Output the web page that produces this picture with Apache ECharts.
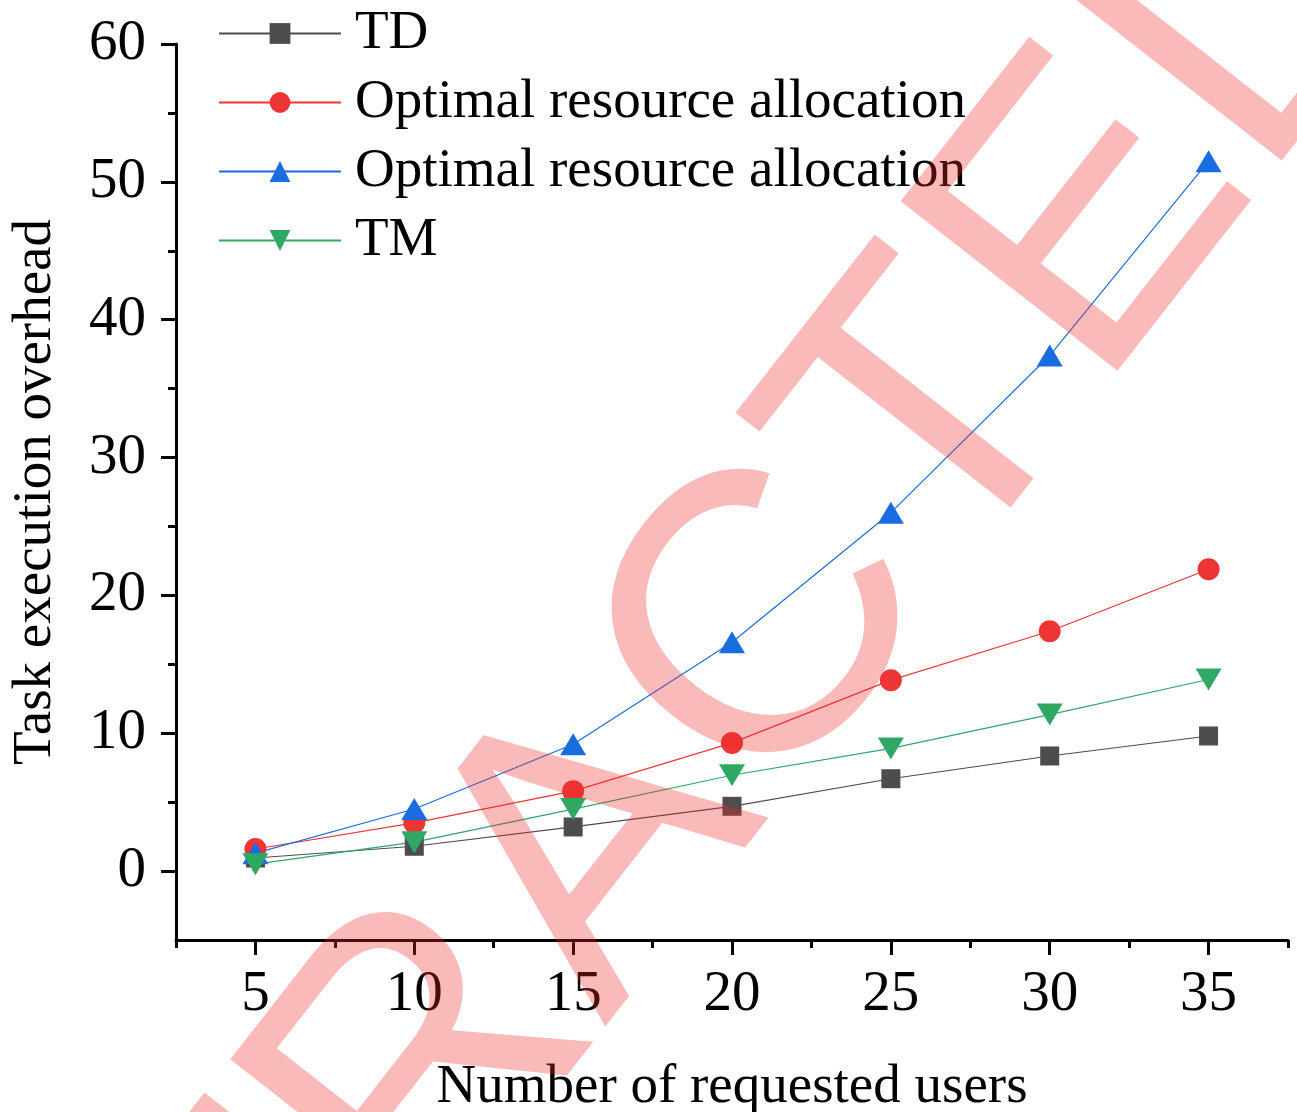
<!DOCTYPE html>
<html>
<head>
<meta charset="utf-8">
<script src="https://cdn.jsdelivr.net/npm/echarts@6.0.0/dist/echarts.min.js"></script>
<style>
html, body { margin: 0; padding: 0; background: #fff; }
#main { width: 1297px; height: 1112px; }
</style>
</head>
<body>
<div id="main"></div>
<script>
var users = [5, 10, 15, 20, 25, 30, 35];
var tdValues = [0.95, 1.8, 3.2, 4.7, 6.7, 8.35, 9.8];
var optRedValues = [1.6, 3.5, 5.8, 9.3, 13.85, 17.4, 21.9];
var optBlueValues = [1.3, 4.5, 9.2, 16.6, 26.0, 37.4, 51.5];
var tmValues = [0.5, 2.1, 4.5, 6.95, 8.9, 11.35, 13.9];
var xMajor = [5, 10, 15, 20, 25, 30, 35];
var xMinor = [2.5, 7.5, 12.5, 17.5, 22.5, 27.5, 32.5, 37.5];
var yMajor = [0, 10, 20, 30, 40, 50, 60];
var yMinor = [5, 15, 25, 35, 45, 55];

var serif = "'Liberation Serif', 'Times New Roman', serif";

function pairs(vals) {
	var out = [];
	for (var i = 0; i < users.length; i++) {
		out.push([users[i], vals[i]]);
	}
	return out;
}

function lineSeries(name, vals, color, symbol, size, rotate) {
	return {
		name: name,
		type: 'line',
		data: pairs(vals),
		symbol: symbol,
		symbolSize: size,
		symbolRotate: rotate || 0,
		showAllSymbol: true,
		lineStyle: { color: color, width: 1.2 },
		itemStyle: { color: color },
		z: 3
	};
}

var myChart = echarts.init(document.getElementById('main'), null, { renderer: 'canvas' });

var option = {
	backgroundColor: '#fff',
	animation: false,
	grid: { left: 176, right: 9, top: 44, bottom: 172, containLabel: false, outerBoundsMode: 'none' },
	legend: {
		orient: 'vertical',
		left: 218,
		top: 6,
		padding: 0,
		itemWidth: 122,
		itemHeight: 26,
		itemGap: 14,
		selectedMode: false,
		formatter: function(name) { return name.trim(); },
		textStyle: { fontFamily: serif, fontSize: 55, color: '#000', lineHeight: 54, padding: [0, 0, 0, 9] }
	},
	xAxis: [
		{
			type: 'value',
			min: 2.5,
			max: 37.5,
			name: 'Number of requested users',
			nameLocation: 'middle',
			nameGap: 120,
			nameTextStyle: { fontFamily: serif, fontSize: 55, color: '#000' },
			axisLine: { show: true, onZero: false, lineStyle: { color: '#000', width: 3 } },
			axisTick: { show: true, customValues: xMajor, length: 15, lineStyle: { color: '#000', width: 3 } },
			axisLabel: { customValues: xMajor, margin: 27, fontFamily: serif, fontSize: 57, color: '#000' },
			splitLine: { show: false }
		},
		{
			type: 'value',
			position: 'bottom',
			min: 2.5,
			max: 37.5,
			axisLine: { show: false, onZero: false },
			axisTick: { show: true, customValues: xMinor, length: 8, lineStyle: { color: '#000', width: 3 } },
			axisLabel: { show: false },
			splitLine: { show: false }
		}
	],
	yAxis: [
		{
			type: 'value',
			min: -5,
			max: 60,
			name: 'Task execution overhead',
			nameLocation: 'middle',
			nameGap: 113,
			nameTextStyle: { fontFamily: serif, fontSize: 55, color: '#000' },
			axisLine: { show: true, onZero: false, lineStyle: { color: '#000', width: 3 } },
			axisTick: { show: true, customValues: yMajor, length: 15, lineStyle: { color: '#000', width: 3 } },
			axisLabel: { customValues: yMajor, margin: 30, fontFamily: serif, fontSize: 57, color: '#000' },
			splitLine: { show: false }
		},
		{
			type: 'value',
			position: 'left',
			min: -5,
			max: 60,
			axisLine: { show: false, onZero: false },
			axisTick: { show: true, customValues: yMinor, length: 8, lineStyle: { color: '#000', width: 3 } },
			axisLabel: { show: false },
			splitLine: { show: false }
		}
	],
	series: [
		lineSeries('TD', tdValues, '#4d4d4d', 'rect', 19),
		lineSeries('Optimal resource allocation', optRedValues, '#ee3535', 'circle', 22),
		lineSeries('Optimal resource allocation ', optBlueValues, '#1a6de0', 'triangle', [26, 22]),
		lineSeries('TM', tmValues, '#30a865', 'triangle', [26, 22], 180)
	],
	graphic: [
		{
			type: 'text',
			x: 600,
			y: 854,
			rotation: 52 * Math.PI / 180,
			z: 100,
			silent: true,
			style: {
				text: 'RETRACTED',
				fontFamily: "'Liberation Sans', Arial, sans-serif",
				fontSize: 400,
				fill: 'rgba(240, 40, 40, 0.32)',
				align: 'center',
				verticalAlign: 'middle'
			}
		}
	]
};

myChart.setOption(option);
</script>
</body>
</html>
